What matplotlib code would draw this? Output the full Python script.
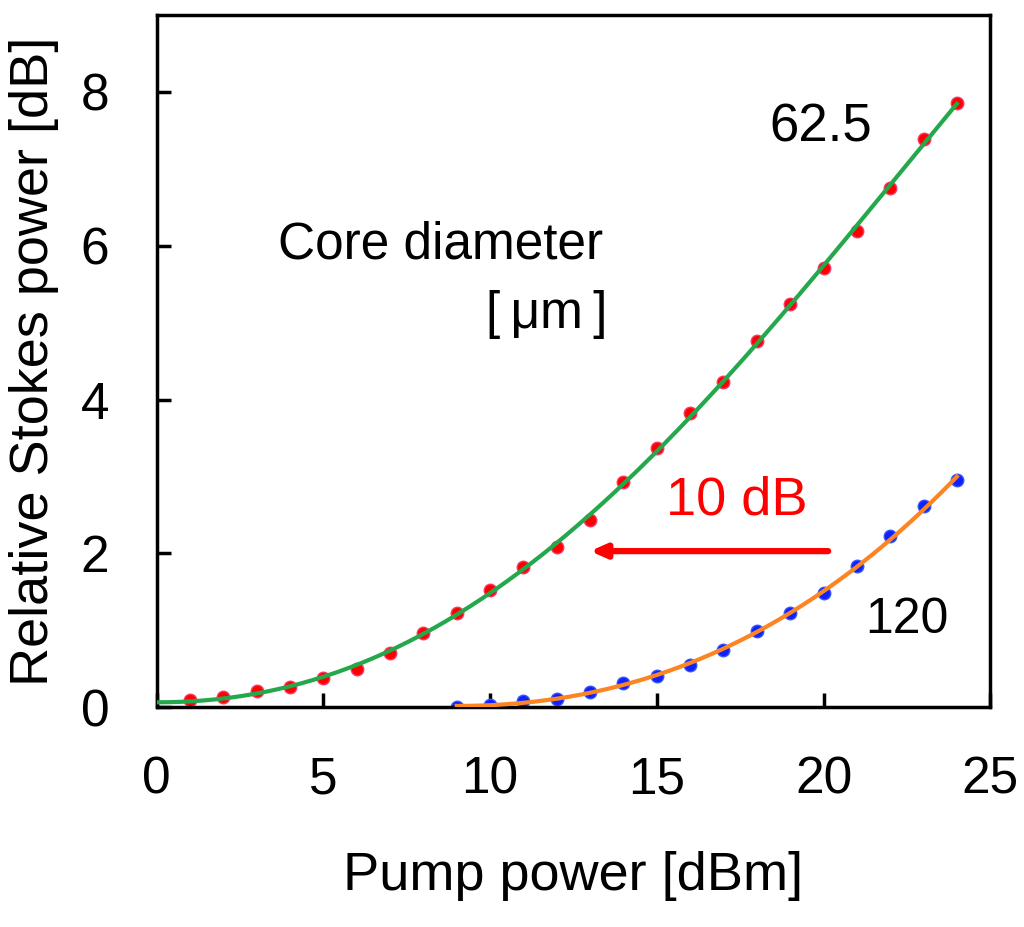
import numpy as np
import matplotlib.pyplot as plt

plt.rcParams['font.family'] = ['Liberation Sans', 'DejaVu Sans']

pump_625 = list(range(1, 25))
stokes_625 = [0.09, 0.13, 0.21, 0.27, 0.38, 0.50, 0.70, 0.96, 1.23, 1.52, 1.82, 2.08,
              2.43, 2.93, 3.37, 3.83, 4.23, 4.76, 5.24, 5.71, 6.19, 6.75, 7.38, 7.85]

pump_120 = list(range(9, 25))
stokes_120 = [0.00, 0.03, 0.08, 0.11, 0.20, 0.31, 0.41, 0.55, 0.75, 0.99, 1.22, 1.48,
              1.83, 2.22, 2.61, 2.95]

fig = plt.figure(figsize=(10.24, 9.27), dpi=100)
ax = fig.add_axes([0.153, 0.237, 0.814, 0.747])

# fitted curves through the measured points
x1 = np.array(pump_625, dtype=float)
A = np.column_stack([np.ones_like(x1), x1**2, x1**3, x1**4])
c625 = np.linalg.lstsq(A, np.array(stokes_625), rcond=None)[0]
xf = np.linspace(0, 24, 200)
yf = c625[0] + c625[1]*xf**2 + c625[2]*xf**3 + c625[3]*xf**4
ax.plot(xf, yf, color='#25a84b', lw=3, zorder=3)

fit_120 = np.polyfit(pump_120, stokes_120, 3)
xf2 = np.linspace(9, 24, 200)
ax.plot(xf2, np.polyval(fit_120, xf2), color='#fb8522', lw=3, zorder=3)

ax.plot(pump_625, stokes_625, 'o', color='red', ms=9, mec='#ff3366', mew=1, zorder=2)
ax.plot(pump_120, stokes_120, 'o', color='#1020ff', ms=9, mec='#3355ff', mew=1, zorder=2)

ax.text(19.93, 7.53, '62.5', fontsize=38, ha='center', va='center')
ax.text(22.5, 1.13, '120', fontsize=36, ha='center', va='center')
ax.text(8.52, 6.01, 'Core diameter', fontsize=37, ha='center', va='center')
ax.text(11.7, 5.1, '[\u2009μm\u2009]', fontsize=37, ha='center', va='center')
ax.text(17.4, 2.69, '10 dB', fontsize=39, ha='center', va='center', color='red')
ax.annotate('', xy=(13.0, 2.03), xytext=(20.14, 2.03),
            arrowprops=dict(arrowstyle='-|>,head_length=0.9,head_width=0.4',
                            color='red', lw=4.5, shrinkA=0, shrinkB=0))

ax.set_xlim(0, 25)
ax.set_ylim(0, 9)
ax.set_xticks([0, 5, 10, 15, 20, 25])
ax.set_yticks([0, 2, 4, 6, 8])
ax.tick_params(direction='in', length=10, width=2.5, labelsize=37)
ax.tick_params(axis='x', pad=35)
ax.tick_params(axis='y', pad=34)
for s in ax.spines.values():
    s.set_linewidth(2.5)

ax.set_xlabel('Pump power [dBm]', fontsize=39, labelpad=33)
ax.set_ylabel('Relative Stokes power [dB]', fontsize=39, labelpad=16)

fig.savefig('out.png', dpi=100)
